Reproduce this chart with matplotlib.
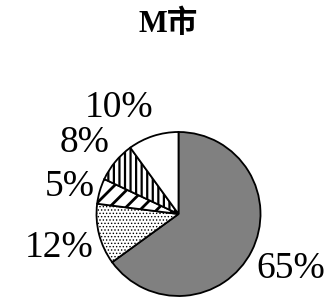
import matplotlib
matplotlib.use('Agg')
import matplotlib.pyplot as plt

title = 'M市'
shares = [65, 12, 5, 8, 10]
colors = ['#808080', 'white', 'white', 'white', 'white']
hatches = ['', '.....', '//', '|||', '']
hatch_lw = [1.0, 0.6, 2.0, 1.6, 1.0]
# label centres in pie-radius units (layout only)
label_xy = [(1.37, -0.67), (-1.46, -0.41), (-1.33, 0.33), (-1.15, 0.87), (-0.73, 1.29)]

plt.rcParams['hatch.color'] = 'black'

fig = plt.figure(figsize=(3.29, 2.97), dpi=100)
fig.patch.set_facecolor('white')

# pie area in figure fractions: centre (178.5, 83 from bottom), radius 82 px
r = 82
cx, cy = 178.5, 83
ax = fig.add_axes([(cx - r) / 329, (cy - r) / 297, 2 * r / 329, 2 * r / 297])

wedges, texts = ax.pie(shares, colors=colors, startangle=90, counterclock=False,
                       wedgeprops=dict(edgecolor='black', linewidth=1.3),
                       labels=[f'{v}%' for v in shares], labeldistance=1.47,
                       textprops=dict(family=['Liberation Serif'], fontsize=27))
for t, xy in zip(texts, label_xy):
    t.set_position(xy)
    t.set_ha('center')
    t.set_va('center')
for w, h, lw in zip(wedges, hatches, hatch_lw):
    w.set_hatch(h)
    w.set_hatch_linewidth(lw)
ax.set_xlim(-1, 1)
ax.set_ylim(-1, 1)
ax.set_aspect('equal')

fig.text(168 / 329, 1 - 24 / 297, title, ha='center', va='center', fontsize=22,
         fontweight='bold', family=['Liberation Serif', 'Noto Sans CJK SC'])

fig.savefig('out.png', dpi=100, facecolor='white')
